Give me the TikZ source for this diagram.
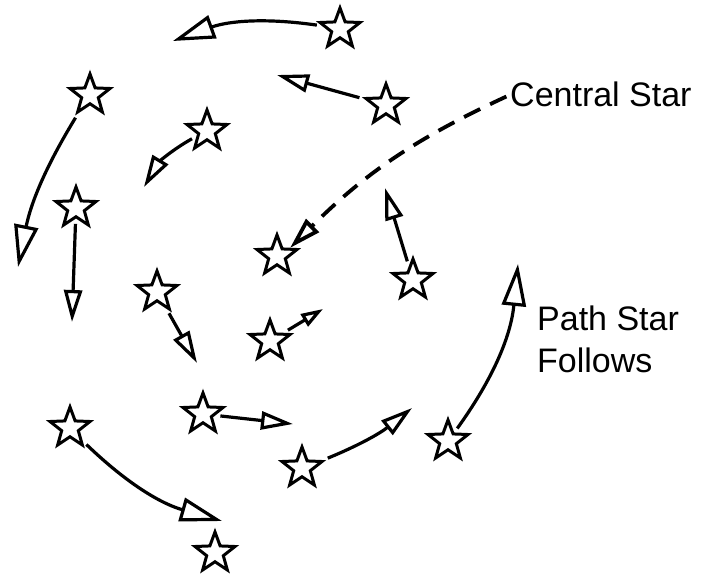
\documentclass[tikz,border=0pt]{standalone}
\usepackage{fontspec}
\setmainfont{Liberation Sans}
\usetikzlibrary{arrows.meta, shapes.geometric}

\begin{document}
\begin{tikzpicture}[
    x=1pt, y=-1pt,
    >={Triangle[open, length=32pt, width=18pt]},
    font=\fontsize{34}{42}\selectfont,
    starnode/.style={draw, star, star points=5, star point ratio=2.4, minimum size=42pt, inner sep=0pt, line width=3pt},
    orbitarr/.style={->, line width=3.2pt, shorten <=5pt},
    bigarr/.style={-{Triangle[open, length=42pt, width=24pt]}, line width=3.2pt, shorten <=5pt},
    pointarr/.style={->, line width=3.8pt, dash pattern=on 18pt off 11pt, shorten <=4pt},
    note/.style={align=left, inner sep=0pt}
]
\useasboundingbox (0,0) rectangle (703,580);

% stars
\node[starnode] (s1) at (340,29) {};
\node[starnode] (s2) at (386,105) {};
\node[starnode] (s3) at (90,95) {};
\node[starnode] (s4) at (207,131) {};
\node[starnode] (s5) at (76,208) {};
\node[starnode] (central) at (277,256) {};
\node[starnode] (s7) at (413,280) {};
\node[starnode] (s8) at (157,292) {};
\node[starnode] (s9) at (270,341) {};
\node[starnode] (s10) at (203,414) {};
\node[starnode] (s11) at (302,468) {};
\node[starnode] (s12) at (448,441) {};
\node[starnode] (s13) at (70,428) {};
\node[starnode] (s14) at (215,553) {};

% arrow tips
\coordinate (e1) at (173,41);
\coordinate (e2) at (277,75);
\coordinate (e3) at (18,267);
\coordinate (e4) at (144,187);
\coordinate (e5) at (72,322);
\coordinate (ec) at (290,248);
\coordinate (e7) at (385,188);
\coordinate (e8) at (197,363);
\coordinate (e9) at (323,309);
\coordinate (e10) at (293,424);
\coordinate (e11) at (412,408);
\coordinate (e12) at (518,264);
\coordinate (e13) at (222,521);

% labels
\node[note, anchor=base west] (lblcentral) at (510,107) {Central Star};
\node[note, anchor=north west] (lblpath) at (537,306) {Path Star\\Follows};

% motion
\draw[bigarr] (s1) to[bend right=14] (e1);
\draw[orbitarr] (s2) -- (e2);
\draw[bigarr] (s3) to[bend right=10] (e3);
\draw[orbitarr] (s4) to[bend right=15] (e4);
\draw[orbitarr] (s5) -- (e5);
\draw[pointarr] (lblcentral.west) to[bend right=10] (ec);
\draw[orbitarr] (s7) -- (e7);
\draw[orbitarr] (s8) -- (e8);
\draw[orbitarr, -{Triangle[open, length=22pt, width=14pt]}] (s9) -- (e9);
\draw[orbitarr] (s10) -- (e10);
\draw[orbitarr] (s11) to[bend right=8] (e11);
\draw[bigarr] (s12) to[bend right=15] (e12);
\draw[bigarr] (s13) to[bend right=14] (e13);

\end{tikzpicture}
\end{document}
